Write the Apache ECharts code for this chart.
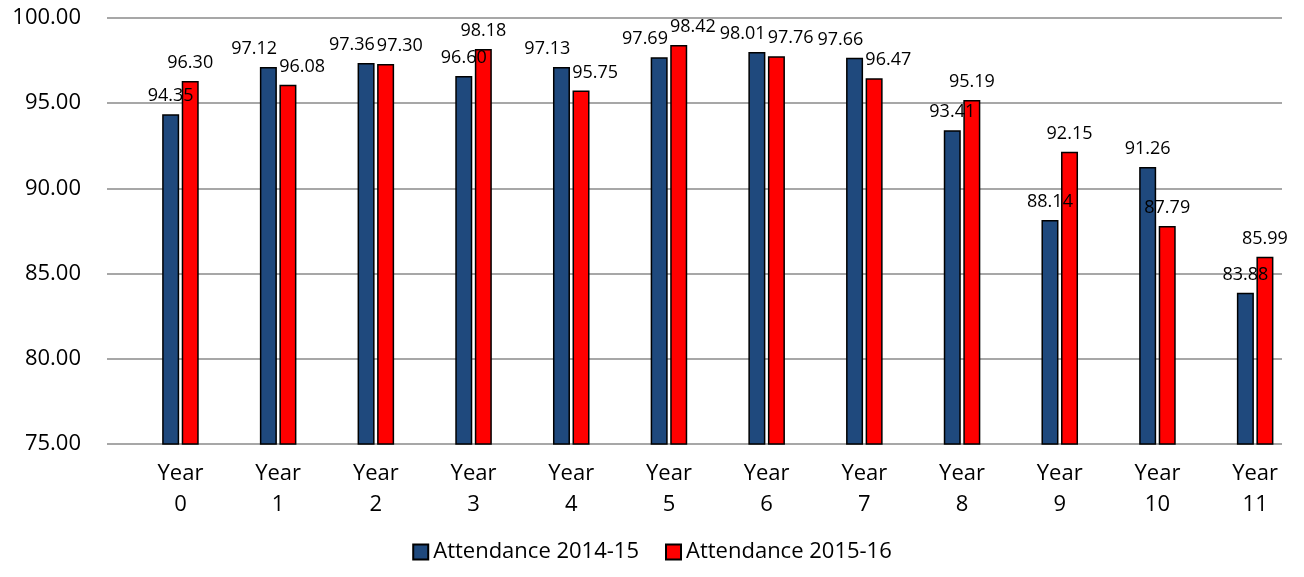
<!DOCTYPE html>
<html>
<head>
<meta charset="utf-8">
<script src="https://cdn.jsdelivr.net/npm/echarts@6/dist/echarts.min.js"></script>
<style>
html,body{margin:0;padding:0;background:#fff;}
#main{width:1304px;height:577px;}
</style>
</head>
<body>
<div id="main"></div>
<script>
const categories = ['Year\n0','Year\n1','Year\n2','Year\n3','Year\n4','Year\n5','Year\n6','Year\n7','Year\n8','Year\n9','Year\n10','Year\n11'];
const attendance1415 = [94.35, 97.12, 97.36, 96.60, 97.13, 97.69, 98.01, 97.66, 93.41, 88.14, 91.26, 83.88];
const attendance1516 = [96.30, 96.08, 97.30, 98.18, 95.75, 98.42, 97.76, 96.47, 95.19, 92.15, 87.79, 85.99];
const seriesNames = ['Attendance 2014-15', 'Attendance 2015-16'];
const yMin = 75, yMax = 100, yStep = 5;

const FONT = 'Open Sans';
const chart = echarts.init(document.getElementById('main'), null, {renderer: 'canvas'});

const labelCfg = {
  show: true,
  position: 'top',
  distance: 9,
  color: '#000',
  fontFamily: FONT,
  fontSize: 18,
  formatter: p => Number(p.value).toFixed(2)
};

// Push the two labels of a category apart horizontally when they would collide
function avoidOverlap(params) {
  const i = params.dataIndex;
  const a = attendance1415[i], b = attendance1516[i];
  const own = params.seriesIndex === 0 ? a : b;
  const barH = Math.abs(params.rect.height);
  const pxPerUnit = barH / Math.max(own - yMin, 0.001);
  const dyPix = Math.abs(a - b) * pxPerUnit;
  if (dyPix >= Math.abs(params.labelRect.height) + 8) return {};
  const centerDist = Math.abs(params.rect.width) * 1.15;
  const shift = Math.max(0, (Math.abs(params.labelRect.width) - centerDist) / 2 + 1);
  return {dx: params.seriesIndex === 0 ? -shift : shift};
}

chart.setOption({
  animation: false,
  backgroundColor: '#fff',
  textStyle: {fontFamily: FONT, color: '#000'},
  grid: [
    {left: 107, right: 22, top: 18, bottom: 133},
    {left: 131.6, width: 1174.3, top: 18, bottom: 133}
  ],
  legend: {
    top: 536,
    left: 'center',
    icon: 'rect',
    itemWidth: 15,
    itemHeight: 15,
    itemGap: 26,
    textStyle: {fontFamily: FONT, fontSize: 22, color: '#000'},
    data: seriesNames
  },
  xAxis: [
    {gridIndex: 0, type: 'category', data: categories, show: false},
    {
      gridIndex: 1, type: 'category', data: categories,
      axisLine: {show: false}, axisTick: {show: false},
      axisLabel: {fontFamily: FONT, fontSize: 22, color: '#000', lineHeight: 31, margin: 14, interval: 0}
    }
  ],
  yAxis: [
    {
      gridIndex: 0, type: 'value', min: yMin, max: yMax, interval: yStep,
      axisLine: {show: false}, axisTick: {show: false},
      axisLabel: {fontFamily: FONT, fontSize: 22, color: '#000', margin: 26, formatter: v => v.toFixed(2)},
      splitLine: {show: true, lineStyle: {color: '#8a8a8a', width: 1.5}}
    },
    {
      gridIndex: 1, type: 'value', min: yMin, max: yMax, interval: yStep, show: false,
      splitLine: {show: false}
    }
  ],
  series: [
    {
      name: seriesNames[0], type: 'bar', xAxisIndex: 1, yAxisIndex: 1,
      data: attendance1415, barWidth: 17, barGap: '15%',
      itemStyle: {color: '#1F497D', borderColor: '#000', borderWidth: 1.5},
      label: labelCfg,
      labelLayout: avoidOverlap
    },
    {
      name: seriesNames[1], type: 'bar', xAxisIndex: 1, yAxisIndex: 1,
      data: attendance1516, barWidth: 17, barGap: '15%',
      itemStyle: {color: '#FF0000', borderColor: '#000', borderWidth: 1.5},
      label: labelCfg,
      labelLayout: avoidOverlap
    }
  ]
});
</script>
</body>
</html>
